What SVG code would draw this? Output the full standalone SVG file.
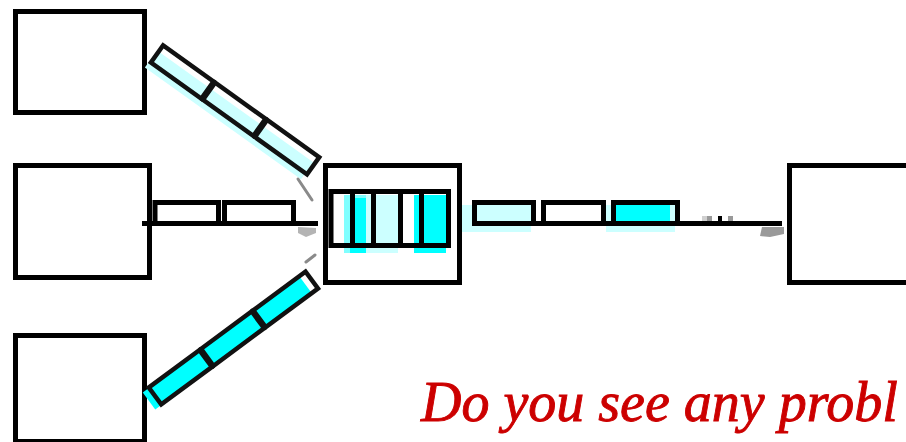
<svg xmlns="http://www.w3.org/2000/svg" width="906" height="442" viewBox="0 0 906 442">
  <style>
    .box { fill: #ffffff; stroke: #000000; stroke-width: 5; }
    .pkt { fill: none; stroke: #000000; stroke-width: 5; }
    .dpkt { fill: none; stroke: #111111; stroke-width: 4.5; }
    .link { stroke: #000000; stroke-width: 5; fill: none; }
    .tip { stroke: #8a8a8a; stroke-width: 3; fill: none; stroke-linecap: round; }
    .lbl { font-family: "Liberation Serif", "Times New Roman", serif; font-style: italic; font-size: 56px; fill: #cc0000; stroke: #cc0000; stroke-width: 0.9; }
  </style>
  <rect width="906" height="442" fill="#ffffff"/>

  <g id="host-top-left"><rect class="box" x="15.5" y="11.5" width="129" height="101"/></g>
  <g id="host-mid-left"><rect class="box" x="15.5" y="165.5" width="134" height="112"/></g>
  <g id="host-bottom-left"><rect class="box" x="15.5" y="335.5" width="129" height="106"/></g>
  <g id="host-right"><rect class="box" x="789.5" y="165.5" width="200" height="117"/></g>

  <g id="router">
    <rect class="box" x="325.5" y="165.5" width="134" height="117"/>
    <rect x="366" y="195" width="32" height="58" fill="#ccffff"/>
    <rect x="344" y="195" width="22" height="58" fill="#80ffff"/>
    <rect x="350" y="198" width="16" height="55" fill="#00ffff"/>
    <rect x="414" y="195" width="32" height="58" fill="#00ffff"/>
    <rect class="pkt" x="331" y="191.5" width="117.5" height="54"/>
    <line class="link" x1="352.5" y1="191.5" x2="352.5" y2="245.5"/>
    <line class="link" x1="373.5" y1="191.5" x2="373.5" y2="245.5"/>
    <line class="link" x1="400.5" y1="191.5" x2="400.5" y2="245.5"/>
    <line class="link" x1="421.5" y1="191.5" x2="421.5" y2="245.5"/>
  </g>

  <g id="connectors">
    <!-- top diagonal link -->
    <g transform="translate(151,59) rotate(35.6)">
      <rect x="0" y="-10.5" width="192" height="21" fill="#ccffff"/>
    </g>
    <g transform="translate(157,54) rotate(35.6)">
      <rect class="dpkt" x="0" y="-10.5" width="62" height="21"/>
      <rect class="dpkt" x="64" y="-10.5" width="62" height="21"/>
      <rect class="dpkt" x="128" y="-10.5" width="64" height="21"/>
    </g>
    <line class="tip" x1="298" y1="179" x2="312" y2="200"/>

    <!-- bottom diagonal link -->
    <g transform="translate(149,401) rotate(-36.5)">
      <rect x="0" y="-10.5" width="195" height="21" fill="#00ffff"/>
    </g>
    <g transform="translate(155,396) rotate(-36.5)">
      <rect class="dpkt" x="0" y="-10.5" width="63" height="21"/>
      <rect class="dpkt" x="65" y="-10.5" width="63" height="21"/>
      <rect class="dpkt" x="130" y="-10.5" width="65" height="21"/>
    </g>
    <line class="tip" x1="306" y1="262" x2="315" y2="255" stroke="#c8c8c8"/>

    <!-- middle link -->
    <line class="link" x1="142" y1="223.5" x2="318" y2="223.5"/>
    <rect class="pkt" x="155" y="202.5" width="63.5" height="21"/>
    <rect class="pkt" x="224.5" y="202.5" width="69" height="21"/>
    <polygon points="298,227 316,228 316,233 306,237 298,233" fill="#b4b4b4"/>

    <!-- output link -->
    <rect x="462" y="205" width="69" height="27" fill="#ccffff"/>
    <rect x="606" y="205" width="69" height="27" fill="#ccffff"/>
    <rect x="611" y="205" width="59" height="19" fill="#00ffff"/>
    <line class="link" x1="474" y1="223.5" x2="782" y2="223.5"/>
    <rect class="pkt" x="474.5" y="202.5" width="59" height="21"/>
    <rect class="pkt" x="543.5" y="202.5" width="60" height="21"/>
    <rect class="pkt" x="613.5" y="202.5" width="64" height="21"/>
    <rect x="702" y="216" width="5" height="5" fill="#d0d0d0"/>
    <rect x="707" y="216" width="5" height="5" fill="#999999"/>
    <rect x="718" y="216" width="4" height="5" fill="#000000"/>
    <rect x="728" y="216" width="5" height="5" fill="#999999"/>
    <polygon points="762,227 784,227 784,234 770,237 760,236" fill="#9a9a9a"/>
  </g>

  <g id="caption">
    <text class="lbl" x="421" y="421">Do you see any probl</text>
  </g>
</svg>
